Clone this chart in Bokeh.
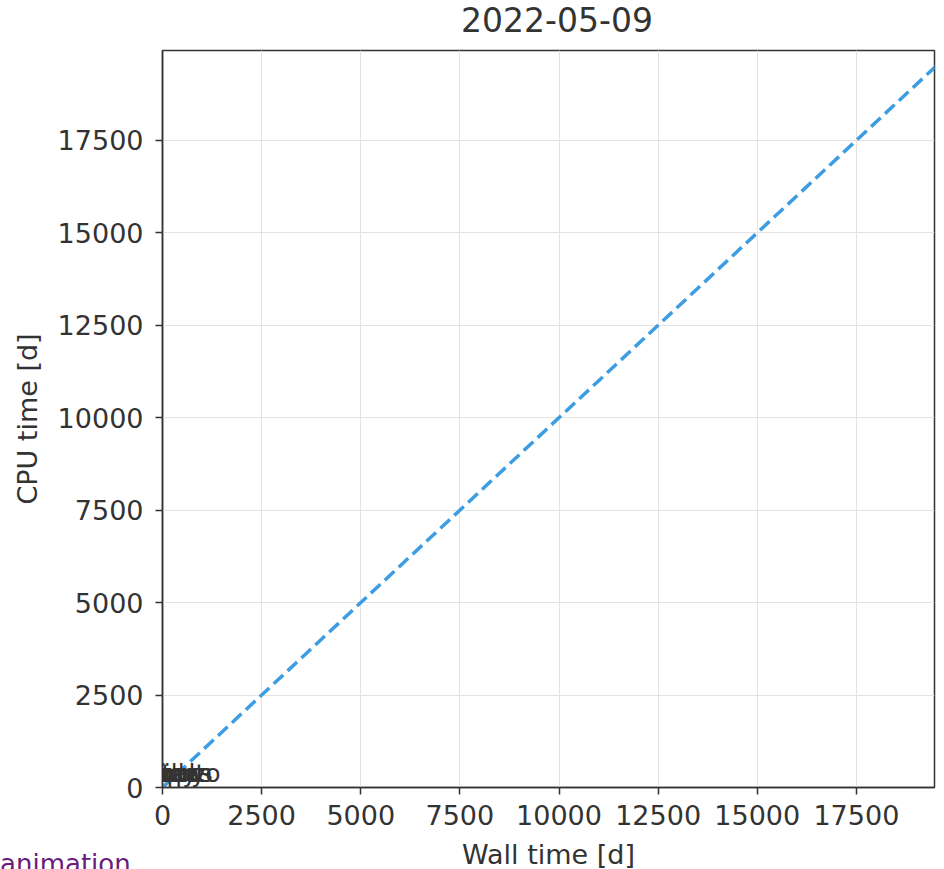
from bokeh.plotting import figure
from bokeh.models import Label, FixedTicker, Div, Range1d
from bokeh.layouts import column
from bokeh.embed import file_html
from bokeh.resources import INLINE

# ---- data ----
title_text = "2022-05-09"
x_label = "Wall time [d]"
y_label = "CPU time [d]"
diag_x = [0, 20000]
diag_y = [0, 20000]
tick_values = [0, 2500, 5000, 7500, 10000, 12500, 15000, 17500]
project_names = ["jupyter", "kdelibs", "numpy", "scipy", "gnome", "pandas", "cobalto"]
project_wall = [-250, -180, 0, 60, 150, 120, 300]
project_cpu = [380, 390, 375, 385, 390, 380, 385]
x_limits = (0, 19470)
y_limits = (0, 19930)

FONT = "DejaVu Sans"
DARK = "#333333"

title_div = Div(text=f'<div style="width:790px;margin-left:162px;text-align:center;'
                     f'font-family:\'DejaVu Sans\';font-size:33px;color:{DARK};'
                     f'line-height:38px;white-space:nowrap;">{title_text}</div>',
                width=936, height=38, margin=(2, 0, 0, 0))

p = figure(width=936, height=832, output_backend="svg", toolbar_location=None,
           x_range=Range1d(*x_limits), y_range=Range1d(*y_limits),
           min_border_left=162, min_border_top=10, min_border_right=2, min_border_bottom=0)

p.line(diag_x, diag_y, line_color="#3d9de3", line_width=3.5, line_dash="13 6")

for name, wx, cy in zip(project_names, project_wall, project_cpu):
    p.add_layout(Label(x=wx, y=cy, text=name, text_align="center",
                       text_baseline="alphabetic", text_font=FONT,
                       text_font_size="25px", text_color=DARK, level="overlay"))

for ax, lab in ((p.xaxis[0], x_label), (p.yaxis[0], y_label)):
    ax.axis_label = lab
    ax.axis_label_text_font = FONT
    ax.axis_label_text_font_size = "27px"
    ax.axis_label_text_font_style = "normal"
    ax.axis_label_text_color = DARK
    ax.major_label_text_font = FONT
    ax.major_label_text_font_size = "27px"
    ax.major_label_text_color = DARK
    ax.axis_line_color = DARK
    ax.axis_line_width = 1.5
    ax.major_tick_line_color = DARK
    ax.major_tick_line_width = 1.5
    ax.major_tick_out = 7
    ax.major_tick_in = 0
    ax.minor_tick_line_color = None
    ax.ticker = FixedTicker(ticks=tick_values)

p.xaxis[0].major_label_standoff = 10
p.xaxis[0].axis_label_standoff = 11
p.yaxis[0].major_label_standoff = 12
p.yaxis[0].axis_label_standoff = 12

p.xgrid.grid_line_color = "#e3e3e3"
p.ygrid.grid_line_color = "#e3e3e3"
p.xgrid.grid_line_width = 1
p.ygrid.grid_line_width = 1
p.outline_line_color = DARK
p.outline_line_width = 1.5
p.outline_line_alpha = 1
p.background_fill_color = "white"
p.border_fill_color = "white"

link = Div(text='<a href="animation.html" style="color:#6a1b7b;text-decoration:none;'
                'font-family:\'DejaVu Sans\';font-size:26px;">animation</a>',
           margin=(-26, 0, 0, 0))

layout = column(title_div, p, link)
open("out.html", "w").write(file_html(layout, INLINE))
